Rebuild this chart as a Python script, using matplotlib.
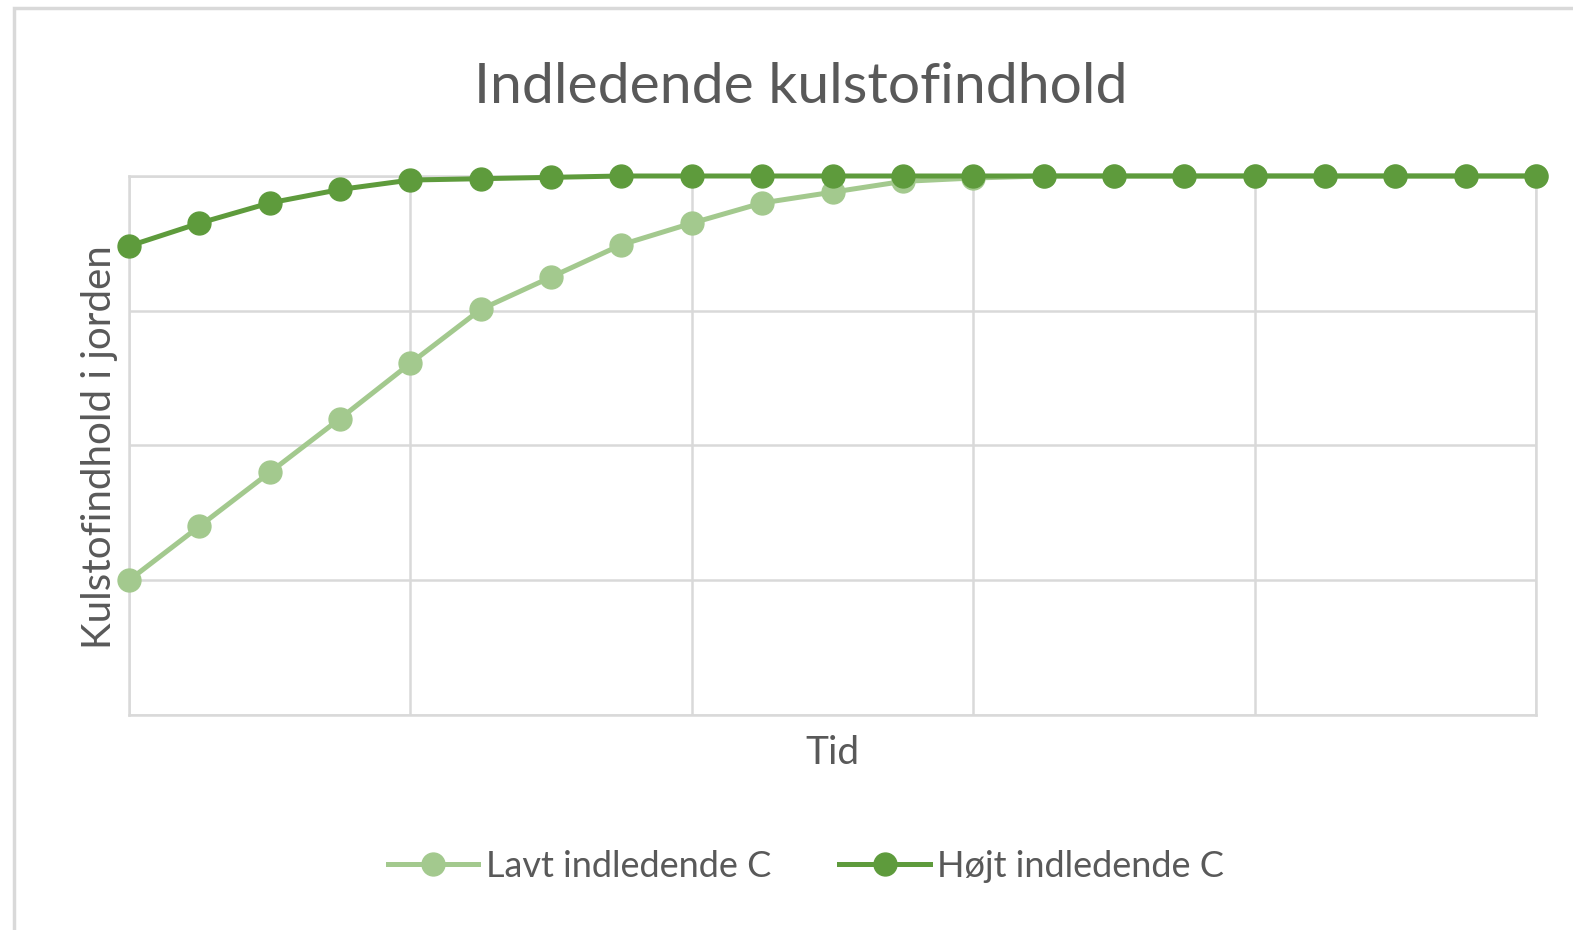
import matplotlib
matplotlib.use("Agg")
import matplotlib.pyplot as plt
from matplotlib.patches import Rectangle

# Data (arbitrary units; y grid 0..4)
time_steps = list(range(21))
lavt_c = [1.00, 1.40, 1.80, 2.20, 2.61, 3.01, 3.25, 3.49, 3.65, 3.80, 3.88,
          3.96, 3.985, 4.00, 4.00, 4.00, 4.00, 4.00, 4.00, 4.00, 4.00]
hojt_c = [3.48, 3.65, 3.80, 3.90, 3.97, 3.98, 3.99, 4.00, 4.00, 4.00, 4.00,
          4.00, 4.00, 4.00, 4.00, 4.00, 4.00, 4.00, 4.00, 4.00, 4.00]
series_names = ["Lavt indledende C", "Højt indledende C"]
title = "Indledende kulstofindhold"
xlabel = "Tid"
ylabel = "Kulstofindhold i jorden"

light = "#A3C98E"
dark = "#5E9B3C"
grid_c = "#D9D9D9"
text_c = "#595959"
font = "Lato"

W, H = 1573, 930
fig = plt.figure(figsize=(W / 100, H / 100), dpi=100)
fig.patch.set_facecolor("white")

# Outer chart frame (cropped on right/bottom)
fig.add_artist(Rectangle((14 / W, -0.1), 1.2, 1 - 8 / H + 0.1, transform=fig.transFigure,
                         fill=False, edgecolor="#D9D9D9", linewidth=2.5))

ax = fig.add_axes([129 / W, 1 - 715 / H, (1536 - 129) / W, (715 - 176) / H])
ax.set_xlim(0, 20)
ax.set_ylim(0, 4)
ax.set_xticks(range(0, 21, 4))
ax.set_yticks(range(0, 5))
ax.tick_params(length=0, labelbottom=False, labelleft=False)
ax.grid(True, color=grid_c, linewidth=1.8)
ax.set_axisbelow(True)
for s in ax.spines.values():
    s.set_color(grid_c)
    s.set_linewidth(1.8)

l1, = ax.plot(time_steps, lavt_c, color=light, linewidth=3.6, marker="o",
              markersize=16.5, label=series_names[0], clip_on=False, zorder=3)
l2, = ax.plot(time_steps, hojt_c, color=dark, linewidth=3.6, marker="o",
              markersize=16.5, label=series_names[1], clip_on=False, zorder=4)

fig.text(801 / W, 1 - 103 / H, title, ha="center", va="baseline", fontsize=41,
         color=text_c, family=font)
fig.text(832 / W, 1 - 764 / H, xlabel, ha="center", va="baseline", fontsize=28,
         color=text_c, family=font)
fig.text(99 / W, 1 - 447 / H, ylabel, ha="center", va="center", fontsize=29,
         color=text_c, family=font, rotation=90)

fig.legend(handles=[l1, l2], loc="center", bbox_to_anchor=(806 / W, 1 - 866 / H),
           ncol=2, frameon=False, handlelength=2.5, handletextpad=0.2,
           columnspacing=1.9, prop={"family": font, "size": 26},
           labelcolor=text_c)

fig.savefig("out.png", dpi=100, facecolor="white")
